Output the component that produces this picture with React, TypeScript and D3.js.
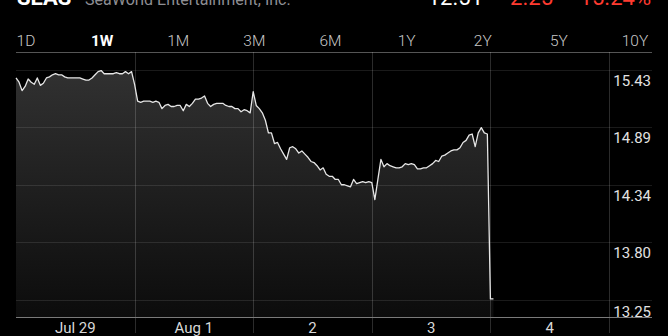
import React from 'react';
import * as d3 from 'd3';

// ---- data ----
const ticker = 'SEAS';
const company = 'SeaWorld Entertainment, Inc.';
const lastPrice = '12.51';
const change = '-2.25';
const changePct = '-15.24%';
const ranges = ['1D', '1W', '1M', '3M', '6M', '1Y', '2Y', '5Y', '10Y'];
const selectedRange = '1W';
const dayLabels = ['Jul 29', 'Aug 1', '2', '3', '4'];
const yTickLabels = [15.43, 14.89, 14.34, 13.8, 13.25];
const BARS_PER_DAY = 39;

const day0 = [15.35, 15.31, 15.23, 15.27, 15.34, 15.31, 15.29, 15.35, 15.28, 15.3, 15.35, 15.36, 15.38, 15.39, 15.38, 15.38, 15.36, 15.35, 15.35, 15.35, 15.35, 15.35, 15.34, 15.33, 15.33, 15.35, 15.38, 15.41, 15.42, 15.39, 15.39, 15.39, 15.39, 15.4, 15.39, 15.39, 15.41, 15.39, 15.41];
const day1 = [15.29, 15.13, 15.12, 15.13, 15.13, 15.13, 15.12, 15.13, 15.12, 15.06, 15.09, 15.1, 15.08, 15.08, 15.09, 15.09, 15.04, 15.1, 15.08, 15.11, 15.15, 15.15, 15.16, 15.18, 15.11, 15.08, 15.1, 15.11, 15.11, 15.11, 15.09, 15.08, 15.08, 15.06, 15.06, 15.03, 15.05, 15.04, 15.02];
const day2 = [15.22, 15.09, 15.06, 15.02, 14.95, 14.83, 14.83, 14.73, 14.74, 14.68, 14.63, 14.58, 14.69, 14.7, 14.68, 14.64, 14.66, 14.63, 14.6, 14.56, 14.55, 14.52, 14.48, 14.5, 14.44, 14.42, 14.42, 14.39, 14.39, 14.34, 14.34, 14.33, 14.32, 14.39, 14.35, 14.36, 14.37, 14.36, 14.37];
const day3 = [14.36, 14.2, 14.39, 14.58, 14.51, 14.54, 14.52, 14.51, 14.5, 14.5, 14.51, 14.54, 14.53, 14.54, 14.53, 14.49, 14.49, 14.5, 14.5, 14.52, 14.54, 14.57, 14.56, 14.61, 14.62, 14.64, 14.66, 14.67, 14.67, 14.69, 14.74, 14.76, 14.81, 14.82, 14.7, 14.83, 14.88, 14.83, 14.82];
const day4 = [13.26, 13.26];
const days = [day0, day1, day2, day3, day4];

type Pt = { i: number; v: number };
const series: Pt[] = days.flatMap((vals, d) => vals.map((v, k) => ({ i: d * BARS_PER_DAY + k, v })));

// ---- layout ----
const W = 668;
const H = 336;
const left = 16;
const right = 652;
const plotTop = 52;
const plotBottom = 317;
const FONT = "Roboto, 'Liberation Sans', sans-serif";

export default function App() {
  const x = d3.scaleLinear().domain([0, dayLabels.length * BARS_PER_DAY]).range([left, 609]);
  const y = d3.scaleLinear().domain([13.25, 15.43]).range([300, 69.5]);
  const tabX = d3.scalePoint<string>().domain(ranges).range([26, 635]);

  const area = d3
    .area<Pt>()
    .x((d) => x(d.i))
    .y0(plotBottom)
    .y1((d) => y(d.v))
    .curve(d3.curveLinear);
  const line = d3
    .line<Pt>()
    .x((d) => x(d.i))
    .y((d) => y(d.v))
    .curve(d3.curveLinear);

  return (
    <svg
      width={W}
      height={H}
      style={{ position: 'fixed', left: 0, top: 0, display: 'block', background: '#000' }}
      fontFamily={FONT}
    >
      <defs>
        <linearGradient id="fillGrad" gradientUnits="userSpaceOnUse" x1={0} y1={69} x2={0} y2={plotBottom}>
          <stop offset="0" stopColor="#313131" />
          <stop offset="1" stopColor="#0c0c0c" />
        </linearGradient>
      </defs>
      <rect x={0} y={0} width={W} height={H} fill="#000" />

      {/* clipped header */}
      <text x={17} y={5} fill="#fff" fontSize={22} fontWeight={700}>{ticker}</text>
      <text x={85} y={5} fill="#8e8e93" fontSize={16}>{company}</text>
      <text x={483} y={5} fill="#fff" fontSize={22} textAnchor="end">{lastPrice}</text>
      <text x={553} y={5} fill="#ff3b30" fontSize={22} textAnchor="end">{change}</text>
      <text x={651} y={5} fill="#ff3b30" fontSize={22} textAnchor="end">{changePct}</text>

      {/* range tabs */}
      {ranges.map((r) => (
        <text
          key={r}
          x={tabX(r)}
          y={46}
          textAnchor="middle"
          fontSize={15.5}
          fontWeight={r === selectedRange ? 700 : 300}
          fill={r === selectedRange ? '#fff' : '#c8c8c8'}
        >
          {r}
        </text>
      ))}
      <line x1={left} x2={right} y1={plotTop + 0.5} y2={plotTop + 0.5} stroke="#555" strokeWidth={1} />

      {/* area and line */}
      <path d={area(series) || ''} fill="url(#fillGrad)" />

      {/* horizontal grid */}
      {yTickLabels.map((t) => (
        <line key={'h' + t} x1={left} x2={right} y1={Math.round(y(t)) + 0.5} y2={Math.round(y(t)) + 0.5} stroke="rgba(255,255,255,0.1)" />
      ))}
      {/* vertical day lines */}
      {dayLabels.map((_, d) => (
        <line
          key={'v' + d}
          x1={Math.round(x((d + 1) * BARS_PER_DAY)) + 0.5}
          x2={Math.round(x((d + 1) * BARS_PER_DAY)) + 0.5}
          y1={plotTop}
          y2={333}
          stroke="rgba(255,255,255,0.17)"
        />
      ))}

      <path d={line(series) || ''} fill="none" stroke="#e6e6e6" strokeWidth={1.3} strokeLinejoin="round" />

      {/* axis line */}
      <line x1={left} x2={right} y1={plotBottom + 0.5} y2={plotBottom + 0.5} stroke="#7a7a7a" />

      {/* y labels */}
      {yTickLabels.map((t) => (
        <text key={'yl' + t} x={651} y={y(t) + 16.5} textAnchor="end" fontSize={15} fill="#e2e2e2">
          {t.toFixed(2)}
        </text>
      ))}

      {/* x labels */}
      {dayLabels.map((lab, d) => (
        <text key={'xl' + d} x={x(d * BARS_PER_DAY + BARS_PER_DAY / 2)} y={332.5} textAnchor="middle" fontSize={15} fill="#d8d8d8">
          {lab}
        </text>
      ))}
    </svg>
  );
}
